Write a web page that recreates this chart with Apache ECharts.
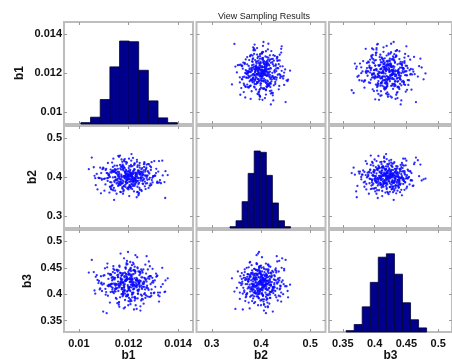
<!DOCTYPE html>
<html>
<head>
<meta charset="utf-8">
<script src="https://cdn.jsdelivr.net/npm/echarts@6.0.0/dist/echarts.min.js"></script>
<style>
    html, body {margin: 0; padding: 0; background: #fff;}
    #matrix {width: 452px; height: 363px;}
</style>
</head>
<body>
<div id="matrix"></div>
<script>
const b1Samples = [
    0.01187, 0.01243, 0.01159, 0.01210, 0.01276, 0.01132, 0.01198, 0.01225, 0.01091, 0.01304, 0.01168, 0.01219, 0.01251, 0.01175, 0.01201, 0.01143, 0.01262, 0.01214, 0.01089, 0.01230,
    0.01196, 0.01157, 0.01289, 0.01208, 0.01134, 0.01247, 0.01182, 0.01320, 0.01171, 0.01216, 0.01052, 0.01239, 0.01195, 0.01268, 0.01148, 0.01206, 0.01177, 0.01291, 0.01125, 0.01222,
    0.01213, 0.01164, 0.01237, 0.01101, 0.01254, 0.01189, 0.01348, 0.01199, 0.01145, 0.01228, 0.01173, 0.01281, 0.01117, 0.01205, 0.01259, 0.01192, 0.01066, 0.01234, 0.01162, 0.01311,
    0.01180, 0.01226, 0.01138, 0.01270, 0.01203, 0.01155, 0.01244, 0.01079, 0.01218, 0.01185, 0.01299, 0.01166, 0.01232, 0.01129, 0.01209, 0.01263, 0.01176, 0.01107, 0.01248, 0.01193,
    0.01220, 0.01151, 0.01273, 0.01190, 0.01236, 0.01122, 0.01207, 0.01327, 0.01169, 0.01245, 0.01098, 0.01211, 0.01184, 0.01285, 0.01141, 0.01229, 0.01202, 0.01165, 0.01358, 0.01178,
    0.01257, 0.01197, 0.01135, 0.01221, 0.01174, 0.01306, 0.01212, 0.01153, 0.01240, 0.01084, 0.01191, 0.01266, 0.01127, 0.01204, 0.01235, 0.01170, 0.01283, 0.01146, 0.01217, 0.01189,
    0.01110, 0.01252, 0.01183, 0.01227, 0.01161, 0.01294, 0.01200, 0.01139, 0.01231, 0.01179, 0.01315, 0.01212, 0.01063, 0.01246, 0.01186, 0.01158, 0.01272, 0.01207, 0.01119, 0.01238,
    0.01195, 0.01275, 0.01149, 0.01215, 0.01167, 0.01260, 0.01093, 0.01224, 0.01181, 0.01338, 0.01203, 0.01136, 0.01249, 0.01172, 0.01209, 0.01120, 0.01287, 0.01194, 0.01241, 0.01156,
    0.01233, 0.01174, 0.01302, 0.01188, 0.01115, 0.01219, 0.01264, 0.01152, 0.01206, 0.01040, 0.01242, 0.01183, 0.01278, 0.01144, 0.01223, 0.01197, 0.01130, 0.01255, 0.01168, 0.01211,
    0.01184, 0.01292, 0.01133, 0.01226, 0.01201, 0.01075, 0.01258, 0.01176, 0.01218, 0.01163, 0.01319, 0.01190, 0.01244, 0.01112, 0.01213, 0.01279, 0.01160, 0.01229, 0.01198, 0.01142,
    0.01239, 0.01166, 0.01207, 0.01284, 0.01125, 0.01221, 0.01188, 0.01253, 0.01099, 0.01216, 0.01171, 0.01331, 0.01194, 0.01147, 0.01237, 0.01204, 0.01267, 0.01137, 0.01222, 0.01178,
    0.01210, 0.01150, 0.01269, 0.01193, 0.01060, 0.01232, 0.01186, 0.01296, 0.01162, 0.01214, 0.01247, 0.01128, 0.01200, 0.01274, 0.01169, 0.01225, 0.01105, 0.01243, 0.01181, 0.01312,
    0.01173, 0.01236, 0.01154, 0.01205, 0.01288, 0.01140, 0.01217, 0.01182, 0.01345, 0.01199, 0.01123, 0.01261, 0.01192, 0.01228, 0.01086, 0.01211, 0.01250, 0.01164, 0.01234, 0.01196,
    0.01261, 0.01179, 0.01118, 0.01223, 0.01192, 0.01281, 0.01158, 0.01208, 0.01244, 0.01131, 0.01219, 0.01300, 0.01176, 0.01072, 0.01229, 0.01185, 0.01257, 0.01148, 0.01215, 0.01203,
    0.01145, 0.01227, 0.01197, 0.01266, 0.01170, 0.01114, 0.01240, 0.01189, 0.01323, 0.01209, 0.01157, 0.01251, 0.01095, 0.01218, 0.01183, 0.01273, 0.01135, 0.01230, 0.01202, 0.01167,
    0.01223, 0.01290, 0.01162, 0.01199, 0.01245, 0.01126, 0.01213, 0.01176, 0.01268, 0.01081, 0.01236, 0.01191, 0.01308, 0.01152, 0.01207, 0.01259, 0.01139, 0.01220, 0.01187, 0.01248,
    0.01201, 0.01134, 0.01255, 0.01180, 0.01226, 0.01103, 0.01212, 0.01282, 0.01169, 0.01238, 0.01193, 0.01146, 0.01336, 0.01206, 0.01161, 0.01248, 0.01121, 0.01216, 0.01270, 0.01185,
    0.01252, 0.01188, 0.01141, 0.01231, 0.01297, 0.01175, 0.01208, 0.01068, 0.01242, 0.01196, 0.01159, 0.01277, 0.01215, 0.01132, 0.01225, 0.01182, 0.01316, 0.01163, 0.01237, 0.01204,
    0.01168, 0.01219, 0.01286, 0.01144, 0.01206, 0.01254, 0.01178, 0.01116, 0.01233, 0.01190, 0.01264, 0.01152, 0.01221, 0.01349, 0.01186, 0.01128, 0.01245, 0.01198, 0.01090, 0.01227,
    0.01214, 0.01171, 0.01263, 0.01137, 0.01200, 0.01241, 0.01155, 0.01293, 0.01188, 0.01224, 0.01108, 0.01256, 0.01179, 0.01210, 0.01325, 0.01148, 0.01235, 0.01194, 0.01271, 0.01160
];
const b2Samples = [
    0.412, 0.385, 0.401, 0.427, 0.393, 0.368, 0.405, 0.419, 0.396, 0.441, 0.380, 0.408, 0.399, 0.374, 0.416, 0.390, 0.433, 0.403, 0.358, 0.411,
    0.394, 0.421, 0.383, 0.406, 0.437, 0.397, 0.376, 0.414, 0.402, 0.389, 0.450, 0.398, 0.371, 0.418, 0.392, 0.409, 0.384, 0.425, 0.400, 0.363,
    0.404, 0.379, 0.430, 0.395, 0.413, 0.387, 0.346, 0.407, 0.420, 0.391, 0.399, 0.372, 0.436, 0.401, 0.382, 0.415, 0.397, 0.444, 0.388, 0.410,
    0.417, 0.393, 0.366, 0.404, 0.428, 0.386, 0.411, 0.398, 0.377, 0.423, 0.402, 0.455, 0.390, 0.369, 0.406, 0.395, 0.432, 0.381, 0.414, 0.400,
    0.386, 0.410, 0.398, 0.439, 0.375, 0.403, 0.418, 0.392, 0.361, 0.407, 0.424, 0.389, 0.401, 0.378, 0.413, 0.396, 0.447, 0.384, 0.405, 0.422,
    0.399, 0.370, 0.415, 0.391, 0.426, 0.404, 0.382, 0.409, 0.353, 0.397, 0.434, 0.388, 0.412, 0.375, 0.402, 0.419, 0.394, 0.365, 0.408, 0.387,
    0.421, 0.395, 0.440, 0.381, 0.406, 0.392, 0.373, 0.416, 0.400, 0.429, 0.385, 0.459, 0.403, 0.367, 0.411, 0.396, 0.424, 0.378, 0.405, 0.390,
    0.408, 0.384, 0.419, 0.400, 0.362, 0.412, 0.393, 0.435, 0.377, 0.404, 0.388, 0.417, 0.399, 0.445, 0.371, 0.407, 0.428, 0.391, 0.356, 0.414,
    0.389, 0.427, 0.402, 0.374, 0.410, 0.396, 0.438, 0.383, 0.405, 0.420, 0.359, 0.398, 0.415, 0.387, 0.431, 0.401, 0.376, 0.409, 0.394, 0.442,
    0.403, 0.380, 0.414, 0.397, 0.423, 0.368, 0.406, 0.391, 0.449, 0.400, 0.385, 0.418, 0.372, 0.410, 0.395, 0.433, 0.382, 0.404, 0.413, 0.341,
    0.397, 0.431, 0.388, 0.409, 0.375, 0.416, 0.401, 0.364, 0.422, 0.393, 0.406, 0.384, 0.437, 0.399, 0.412, 0.379, 0.403, 0.426, 0.390, 0.357,
    0.411, 0.392, 0.369, 0.404, 0.425, 0.386, 0.414, 0.398, 0.452, 0.381, 0.407, 0.419, 0.373, 0.402, 0.389, 0.434, 0.396, 0.410, 0.366, 0.421,
    0.384, 0.408, 0.429, 0.395, 0.378, 0.413, 0.400, 0.443, 0.387, 0.405, 0.360, 0.417, 0.392, 0.402, 0.424, 0.374, 0.411, 0.396, 0.439, 0.385,
    0.406, 0.363, 0.398, 0.420, 0.391, 0.412, 0.377, 0.403, 0.430, 0.386, 0.415, 0.401, 0.370, 0.408, 0.394, 0.446, 0.383, 0.418, 0.399, 0.351,
    0.415, 0.390, 0.404, 0.376, 0.427, 0.397, 0.382, 0.410, 0.441, 0.393, 0.405, 0.367, 0.420, 0.388, 0.401, 0.432, 0.379, 0.407, 0.395, 0.422,
    0.393, 0.418, 0.381, 0.400, 0.436, 0.387, 0.409, 0.371, 0.414, 0.398, 0.426, 0.383, 0.403, 0.357, 0.411, 0.392, 0.447, 0.396, 0.380, 0.406,
    0.402, 0.378, 0.423, 0.389, 0.410, 0.365, 0.405, 0.433, 0.394, 0.417, 0.385, 0.400, 0.442, 0.374, 0.413, 0.391, 0.406, 0.428, 0.383, 0.398,
    0.420, 0.395, 0.372, 0.407, 0.386, 0.439, 0.401, 0.379, 0.416, 0.392, 0.454, 0.404, 0.369, 0.411, 0.397, 0.425, 0.388, 0.409, 0.362, 0.414,
    0.387, 0.412, 0.398, 0.429, 0.376, 0.404, 0.419, 0.390, 0.348, 0.408, 0.435, 0.394, 0.381, 0.415, 0.401, 0.373, 0.424, 0.396, 0.410, 0.384,
    0.409, 0.383, 0.426, 0.399, 0.368, 0.413, 0.392, 0.438, 0.405, 0.377, 0.418, 0.390, 0.402, 0.431, 0.386, 0.411, 0.361, 0.397, 0.421, 0.404
];
const b3Samples = [
    0.425, 0.409, 0.437, 0.418, 0.396, 0.431, 0.414, 0.452, 0.422, 0.403, 0.440, 0.417, 0.388, 0.428, 0.411, 0.446, 0.420, 0.399, 0.434, 0.415,
    0.406, 0.432, 0.419, 0.381, 0.426, 0.441, 0.412, 0.398, 0.435, 0.423, 0.465, 0.408, 0.429, 0.393, 0.416, 0.447, 0.424, 0.402, 0.438, 0.371,
    0.430, 0.413, 0.449, 0.420, 0.391, 0.427, 0.405, 0.442, 0.418, 0.474, 0.410, 0.433, 0.397, 0.423, 0.414, 0.456, 0.401, 0.426, 0.385, 0.439,
    0.417, 0.444, 0.404, 0.428, 0.413, 0.383, 0.436, 0.421, 0.460, 0.407, 0.425, 0.394, 0.431, 0.419, 0.448, 0.400, 0.422, 0.410, 0.377, 0.433,
    0.438, 0.411, 0.424, 0.396, 0.451, 0.418, 0.429, 0.403, 0.440, 0.415, 0.367, 0.427, 0.408, 0.434, 0.420, 0.392, 0.445, 0.416, 0.430, 0.405,
    0.421, 0.399, 0.433, 0.457, 0.412, 0.426, 0.387, 0.419, 0.443, 0.409, 0.428, 0.402, 0.436, 0.414, 0.470, 0.423, 0.395, 0.431, 0.417, 0.448,
    0.404, 0.432, 0.415, 0.440, 0.380, 0.422, 0.411, 0.453, 0.426, 0.398, 0.435, 0.418, 0.407, 0.442, 0.389, 0.424, 0.413, 0.461, 0.429, 0.401,
    0.427, 0.416, 0.393, 0.437, 0.420, 0.447, 0.406, 0.430, 0.373, 0.419, 0.439, 0.412, 0.425, 0.400, 0.450, 0.415, 0.434, 0.396, 0.422, 0.443,
    0.413, 0.436, 0.402, 0.425, 0.458, 0.409, 0.431, 0.418, 0.386, 0.441, 0.421, 0.405, 0.447, 0.428, 0.394, 0.417, 0.437, 0.410, 0.477, 0.423,
    0.432, 0.397, 0.420, 0.444, 0.408, 0.427, 0.390, 0.438, 0.415, 0.454, 0.403, 0.426, 0.419, 0.364, 0.433, 0.411, 0.445, 0.422, 0.399, 0.430,
    0.418, 0.441, 0.406, 0.429, 0.384, 0.423, 0.450, 0.412, 0.435, 0.400, 0.426, 0.414, 0.463, 0.420, 0.392, 0.437, 0.409, 0.428, 0.446, 0.403,
    0.435, 0.410, 0.427, 0.398, 0.442, 0.419, 0.375, 0.431, 0.415, 0.455, 0.424, 0.404, 0.438, 0.412, 0.429, 0.388, 0.449, 0.421, 0.407, 0.433,
    0.409, 0.426, 0.446, 0.413, 0.395, 0.432, 0.420, 0.468, 0.404, 0.437, 0.417, 0.382, 0.428, 0.443, 0.411, 0.424, 0.399, 0.452, 0.416, 0.430,
    0.424, 0.401, 0.439, 0.417, 0.459, 0.408, 0.433, 0.390, 0.426, 0.414, 0.445, 0.422, 0.396, 0.436, 0.379, 0.419, 0.441, 0.405, 0.428, 0.412,
    0.440, 0.415, 0.397, 0.430, 0.421, 0.451, 0.406, 0.425, 0.386, 0.437, 0.412, 0.447, 0.418, 0.402, 0.434, 0.472, 0.409, 0.427, 0.393, 0.423,
    0.411, 0.434, 0.420, 0.379, 0.443, 0.416, 0.429, 0.400, 0.456, 0.425, 0.407, 0.438, 0.414, 0.391, 0.432, 0.419, 0.448, 0.403, 0.426, 0.369,
    0.429, 0.405, 0.444, 0.422, 0.395, 0.436, 0.413, 0.462, 0.418, 0.401, 0.431, 0.410, 0.450, 0.424, 0.384, 0.439, 0.417, 0.427, 0.398, 0.441,
    0.416, 0.439, 0.402, 0.427, 0.448, 0.411, 0.389, 0.433, 0.421, 0.457, 0.406, 0.430, 0.394, 0.419, 0.445, 0.413, 0.435, 0.376, 0.424, 0.408,
    0.431, 0.419, 0.453, 0.406, 0.428, 0.397, 0.440, 0.416, 0.372, 0.434, 0.423, 0.446, 0.410, 0.426, 0.401, 0.438, 0.414, 0.480, 0.420, 0.392,
    0.403, 0.428, 0.414, 0.442, 0.387, 0.425, 0.436, 0.409, 0.451, 0.418, 0.399, 0.432, 0.421, 0.444, 0.396, 0.411, 0.429, 0.405, 0.439, 0.417
];

// histogram bins on the diagonal (edges + counts)
const b1Edges = [0.01008, 0.01047, 0.01086, 0.01125, 0.01164, 0.01203, 0.01241, 0.01280, 0.01319, 0.01358, 0.01397];
const b1Counts = [2, 10, 36, 84, 122, 121, 79, 34, 9, 2];
const b2Edges = [0.3370, 0.3493, 0.3616, 0.3739, 0.3862, 0.3985, 0.4108, 0.4231, 0.4354, 0.4477, 0.4600];
const b2Counts = [2, 11, 40, 83, 117, 115, 80, 38, 11, 2];
const b3Edges = [0.3552, 0.3679, 0.3805, 0.3932, 0.4058, 0.4185, 0.4312, 0.4438, 0.4565, 0.4691, 0.4818];
const b3Counts = [2, 11, 37, 73, 110, 115, 85, 43, 18, 6];

// axis limits and tick labels
const varNames = ['b1', 'b2', 'b3'];
const axisMin = [0.0094, 0.269, 0.3283];
const axisMax = [0.0146, 0.531, 0.5217];
const b1Ticks = [0.01, 0.012, 0.014];
const b2Ticks = [0.3, 0.4, 0.5];
const b3Ticks = [0.35, 0.4, 0.45, 0.5];
const histMax = [150, 155, 150];

const samples = [b1Samples, b2Samples, b3Samples];
const edges = [b1Edges, b2Edges, b3Edges];
const counts = [b1Counts, b2Counts, b3Counts];
const ticks = [b1Ticks, b2Ticks, b3Ticks];

const colLeft = [64, 196.5, 329];
const rowTop = [22, 126, 230];
const cellW = 129;
const cellH = 102;
const yNameGap = [38, 25, 30];
const font = 'Arial, "Liberation Sans", sans-serif';

function varAxis(grid, v, position, labeled) {
    return {
        type: 'value',
        gridIndex: grid,
        position: position,
        min: axisMin[v],
        max: axisMax[v],
        axisLine: {show: false},
        splitLine: {show: false},
        axisTick: {
            show: true,
            inside: true,
            length: 3,
            customValues: ticks[v],
            lineStyle: {color: '#9a9a9a', width: 1}
        },
        axisLabel: {
            show: labeled,
            customValues: ticks[v],
            fontFamily: font,
            fontWeight: 'bold',
            fontSize: 11,
            color: '#111',
            margin: (position === 'bottom') ? 6 : 2,
            formatter: function (val) {
                return String(val);
            }
        },
        name: labeled ? varNames[v] : '',
        nameLocation: 'middle',
        nameGap: (position === 'bottom') ? 16 : yNameGap[v],
        nameTextStyle: {
            fontFamily: font,
            fontWeight: 'bold',
            fontSize: 12,
            color: '#111'
        }
    };
}

let grids = [];
let xAxes = [];
let yAxes = [];
let series = [];

for (let i = 0; i < 3; i++) {
    for (let j = 0; j < 3; j++) {
        let g = grids.length;
        grids.push({
            left: colLeft[j],
            top: rowTop[i],
            width: cellW,
            height: cellH,
            show: true,
            backgroundColor: '#fff',
            borderColor: '#bdbdbd',
            borderWidth: 2
        });
        let xi = xAxes.length;
        xAxes.push(varAxis(g, j, 'bottom', i === 2));
        xAxes.push(varAxis(g, j, 'top', false));
        let yi = yAxes.length;
        yAxes.push(varAxis(g, i, 'left', j === 0));
        yAxes.push(varAxis(g, i, 'right', false));

        if (i === j) {
            let yc = yAxes.length;
            yAxes.push({type: 'value', gridIndex: g, min: 0, max: histMax[i], show: false});
            let bars = [];
            for (let k = 0; k < counts[i].length; k++) {
                bars.push([edges[i][k], edges[i][k + 1], counts[i][k]]);
            }
            series.push({
                type: 'custom',
                xAxisIndex: xi,
                yAxisIndex: yc,
                silent: true,
                encode: {x: [0, 1], y: 2},
                data: bars,
                renderItem: function (params, api) {
                    let p0 = api.coord([api.value(0), 0]);
                    let p1 = api.coord([api.value(1), api.value(2)]);
                    return {
                        type: 'rect',
                        shape: {x: p0[0], y: p1[1], width: p1[0] - p0[0], height: p0[1] - p1[1]},
                        style: {fill: '#00008c', stroke: '#00003a', lineWidth: 0.8}
                    };
                }
            });
        } else {
            let pts = [];
            for (let k = 0; k < samples[j].length; k++) {
                pts.push([samples[j][k], samples[i][k]]);
            }
            series.push({
                type: 'scatter',
                xAxisIndex: xi,
                yAxisIndex: yi,
                silent: true,
                symbol: 'circle',
                symbolSize: 2.3,
                itemStyle: {color: '#0a0aff', opacity: 0.85},
                data: pts
            });
        }
    }
}

let chart = echarts.init(document.getElementById('matrix'));
chart.setOption({
    animation: false,
    backgroundColor: '#fff',
    title: {
        text: 'View Sampling Results',
        left: 213,
        top: 7,
        textStyle: {fontFamily: font, fontSize: 9, fontWeight: 'normal', color: '#222'}
    },
    grid: grids,
    xAxis: xAxes,
    yAxis: yAxes,
    series: series
});
</script>
</body>
</html>
